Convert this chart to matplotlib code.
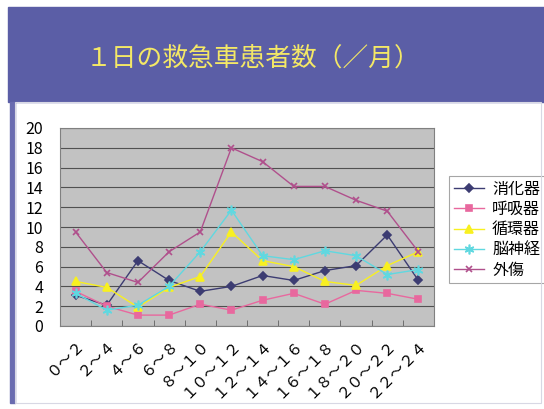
import matplotlib
matplotlib.use('Agg')
import matplotlib.pyplot as plt
from matplotlib.patches import Rectangle
import numpy as np

plt.rcParams['font.family'] = ['Noto Sans CJK JP', 'DejaVu Sans']

title = '１日の救急車患者数（／月）'
categories = ['０～２', '２～４', '４～６', '６～８', '８～１０', '１０～１２',
              '１２～１４', '１４～１６', '１６～１８', '１８～２０', '２０～２２', '２２～２４']

shoukaki = [3.1, 2.1, 6.6, 4.6, 3.5, 4.0, 5.1, 4.6, 5.6, 6.1, 9.2, 4.6]
kokyuki = [3.5, 2.0, 1.1, 1.1, 2.2, 1.6, 2.6, 3.3, 2.2, 3.6, 3.3, 2.7]
junkanki = [4.5, 3.9, 1.9, 3.9, 5.0, 9.5, 6.6, 6.0, 4.5, 4.1, 6.1, 7.5]
noshinkei = [3.3, 1.6, 2.1, 4.0, 7.5, 11.7, 7.1, 6.7, 7.6, 7.1, 5.2, 5.7]
gaisho = [9.5, 5.4, 4.4, 7.5, 9.5, 18.0, 16.6, 14.1, 14.1, 12.7, 11.6, 7.5]

series = [
    ('消化器', shoukaki, '#3c3c72', 'D', 4.5),
    ('呼吸器', kokyuki, '#e8689e', 's', 5),
    ('循環器', junkanki, '#f8f020', '^', 6),
    ('脳神経', noshinkei, '#60d8e0', (6, 2, 0), 7),
    ('外傷', gaisho, '#b0508c', 'x', 5),
]

fig = plt.figure(figsize=(5.44, 4.09), dpi=100)

# slide decoration
fig.patches.append(Rectangle((8 / 544, 1 - 102 / 409), 1, 95 / 409,
                             transform=fig.transFigure, color='#5b5ea6', zorder=0))
fig.patches.append(Rectangle((10 / 544, 6 / 409), 5 / 544, 1 - 108 / 409,
                             transform=fig.transFigure, color='#6a6cb0', zorder=0))
fig.patches.append(Rectangle((15 / 544, 6 / 409), 526 / 544, 1 - 108 / 409,
                             transform=fig.transFigure, fill=False,
                             edgecolor='#d8d8e4', lw=0.8, zorder=0))
fig.text(0.465, 0.857, title, color='#f4e866', fontsize=18.5, ha='center', va='center')

ax = fig.add_axes([60 / 544, 1 - 326 / 409, 374 / 544, 198 / 409])
ax.set_facecolor('#c2c2c2')
x = np.arange(len(categories))
for name, vals, color, marker, ms in series:
    ax.plot(x, vals, color=color, marker=marker, markersize=ms, lw=1,
            markeredgecolor=color, markeredgewidth=1.2, label=name)

ax.set_xlim(-0.5, len(categories) - 0.5)
ax.set_ylim(0, 20)
ax.set_yticks(np.arange(0, 21, 2))
ax.yaxis.grid(True, color='#505050', lw=0.8)
ax.set_axisbelow(True)
ax.tick_params(axis='y', length=0, labelsize=11.5, pad=12)
ax.set_xticks(x)
ax.set_xticklabels(categories, rotation=45, ha='right', va='top',
                   rotation_mode='anchor', fontsize=11)
ax.set_xticks(np.arange(-0.5, len(categories)), minor=True)
ax.tick_params(axis='x', which='major', length=0, pad=7)
ax.tick_params(axis='x', which='minor', length=4, direction='in', color='#606060')
for s in ax.spines.values():
    s.set_color('#808080')
    s.set_linewidth(0.8)

leg = ax.legend(loc='upper left', bbox_to_anchor=(441 / 544, 1 - 168 / 409),
                bbox_transform=fig.transFigure, fontsize=11.5, frameon=True,
                fancybox=False, edgecolor='#909090', borderpad=0.3,
                labelspacing=0.2, handlelength=1.9, handletextpad=0.5)
leg.get_frame().set_linewidth(0.8)

fig.savefig('out.png', dpi=100, facecolor='white')
